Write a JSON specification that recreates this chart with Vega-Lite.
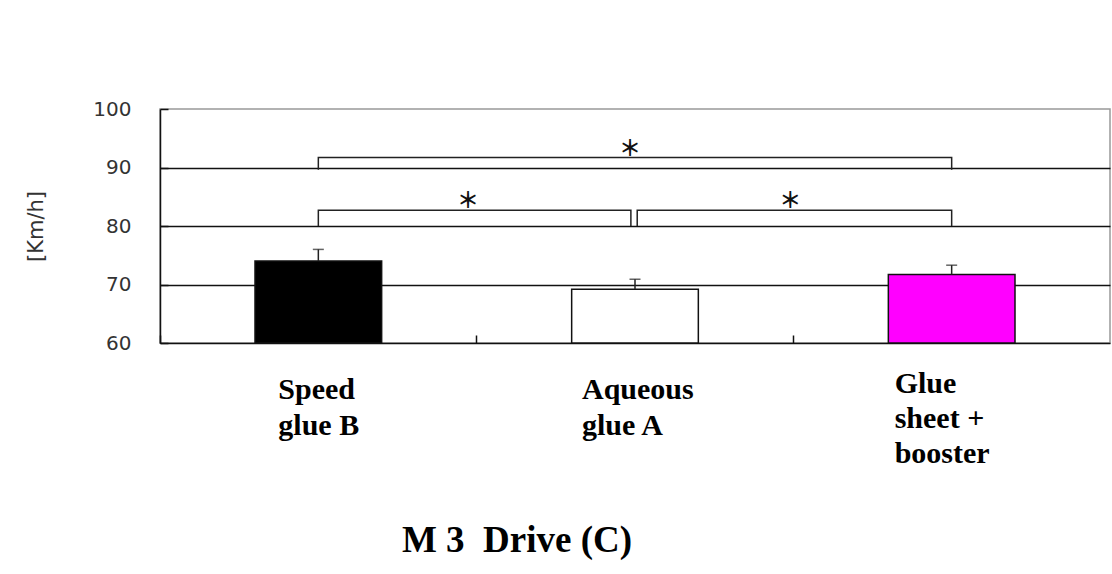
{
  "$schema": "https://vega.github.io/schema/vega-lite/v6.json",
  "width": 950,
  "height": 234,
  "autosize": {"type": "none"},
  "padding": {"left": 160, "top": 109, "right": 2, "bottom": 231},
  "background": "white",
  "config": {"view": {"stroke": "#999", "strokeWidth": 1.5}},
  "datasets": {
    "bars": [
      {"group": "Speed glue B", "label": "Speed\nglue B", "mean": 74.0, "upper": 76.0},
      {"group": "Aqueous glue A", "label": "Aqueous\nglue A", "mean": 69.2, "upper": 70.9},
      {"group": "Glue sheet + booster", "label": "Glue\nsheet +\nbooster", "mean": 71.7, "upper": 73.3}
    ],
    "brackets": [
      {"id": "all", "ord": 0, "bx": 0.5, "by": 89.6},
      {"id": "all", "ord": 1, "bx": 0.5, "by": 91.7},
      {"id": "all", "ord": 2, "bx": 2.5, "by": 91.7},
      {"id": "all", "ord": 3, "bx": 2.5, "by": 89.6},
      {"id": "left", "ord": 0, "bx": 0.5, "by": 80},
      {"id": "left", "ord": 1, "bx": 0.5, "by": 82.7},
      {"id": "left", "ord": 2, "bx": 1.487, "by": 82.7},
      {"id": "left", "ord": 3, "bx": 1.487, "by": 80},
      {"id": "right", "ord": 0, "bx": 1.507, "by": 80},
      {"id": "right", "ord": 1, "bx": 1.507, "by": 82.7},
      {"id": "right", "ord": 2, "bx": 2.5, "by": 82.7},
      {"id": "right", "ord": 3, "bx": 2.5, "by": 80}
    ],
    "stars": [
      {"sx": 1.484, "sy": 93.2, "mark": "＊"},
      {"sx": 0.973, "sy": 84.3, "mark": "＊"},
      {"sx": 1.99, "sy": 84.3, "mark": "＊"}
    ],
    "caption": [
      {"cx": 0.764, "cy": 60, "text": "M 3\u00a0 Drive (C)"}
    ]
  },
  "layer": [
    {
      "data": {"name": "bars"},
      "mark": {"type": "bar", "stroke": "#111", "strokeWidth": 1.5, "width": {"band": 0.4}},
      "encoding": {
        "x": {
          "field": "group", "type": "nominal", "sort": null,
          "scale": {"type": "band", "domain": ["Speed glue B", "Aqueous glue A", "Glue sheet + booster"], "paddingInner": 0, "paddingOuter": 0},
          "axis": {"title": null, "labels": false, "ticks": true, "tickSize": -8, "bandPosition": 0,
                   "domainColor": "#111", "domainWidth": 1.5, "tickColor": "#111", "tickWidth": 1.5, "grid": false}
        },
        "y": {
          "field": "mean", "type": "quantitative",
          "scale": {"domain": [60, 100], "nice": false, "zero": false},
          "axis": {
            "values": [60, 70, 80, 90, 100],
            "title": "[Km/h]",
            "grid": true, "gridColor": "#111", "gridWidth": 1.5,
            "gridOpacity": {"condition": {"test": "datum.value == 60 || datum.value == 100", "value": 0}, "value": 1},
            "domainColor": "#111", "domainWidth": 1.5,
            "tickSize": -8, "tickColor": "#111", "tickWidth": 1.5,
            "labelFont": "DejaVu Sans", "labelFontSize": 20, "labelColor": "#333", "labelPadding": 37,
            "titleFont": "DejaVu Sans", "titleFontSize": 21, "titleFontWeight": "normal", "titleColor": "#333", "titlePadding": 46
          }
        },
        "y2": {"datum": 60},
        "color": {
          "field": "group", "type": "nominal",
          "scale": {"domain": ["Speed glue B", "Aqueous glue A", "Glue sheet + booster"], "range": ["#000000", "#ffffff", "#ff00ff"]},
          "legend": null
        }
      }
    },
    {
      "data": {"name": "bars"},
      "mark": {"type": "rule", "color": "#222", "strokeWidth": 1.5},
      "encoding": {
        "x": {"field": "group", "type": "nominal", "sort": null, "scale": {"type": "band", "domain": ["Speed glue B", "Aqueous glue A", "Glue sheet + booster"], "paddingInner": 0, "paddingOuter": 0}, "axis": null},
        "y": {"field": "mean", "type": "quantitative"},
        "y2": {"field": "upper"}
      }
    },
    {
      "data": {"name": "bars"},
      "mark": {"type": "tick", "color": "#222", "size": 11, "thickness": 1.5},
      "encoding": {
        "x": {"field": "group", "type": "nominal", "sort": null, "scale": {"type": "band", "domain": ["Speed glue B", "Aqueous glue A", "Glue sheet + booster"], "paddingInner": 0, "paddingOuter": 0}, "axis": null},
        "y": {"field": "upper", "type": "quantitative"}
      }
    },
    {
      "data": {"name": "bars"},
      "transform": [{"filter": "datum.group == 'Speed glue B'"}],
      "mark": {"type": "text", "align": "left", "baseline": "alphabetic", "dx": -40, "dy": 56, "font": "Liberation Serif", "fontWeight": "bold", "fontSize": 30, "lineHeight": 36, "lineBreak": "\n", "color": "black"},
      "encoding": {
        "x": {"field": "group", "type": "nominal", "sort": null, "scale": {"type": "band", "domain": ["Speed glue B", "Aqueous glue A", "Glue sheet + booster"], "paddingInner": 0, "paddingOuter": 0}, "axis": null},
        "y": {"datum": 60},
        "text": {"field": "label"}
      }
    },
    {
      "data": {"name": "bars"},
      "transform": [{"filter": "datum.group == 'Aqueous glue A'"}],
      "mark": {"type": "text", "align": "left", "baseline": "alphabetic", "dx": -53, "dy": 56, "font": "Liberation Serif", "fontWeight": "bold", "fontSize": 30, "lineHeight": 36, "lineBreak": "\n", "color": "black"},
      "encoding": {
        "x": {"field": "group", "type": "nominal", "sort": null, "scale": {"type": "band", "domain": ["Speed glue B", "Aqueous glue A", "Glue sheet + booster"], "paddingInner": 0, "paddingOuter": 0}, "axis": null},
        "y": {"datum": 60},
        "text": {"field": "label"}
      }
    },
    {
      "data": {"name": "bars"},
      "transform": [{"filter": "datum.group == 'Glue sheet + booster'"}],
      "mark": {"type": "text", "align": "left", "baseline": "alphabetic", "dx": -57, "dy": 50, "font": "Liberation Serif", "fontWeight": "bold", "fontSize": 30, "lineHeight": 35, "lineBreak": "\n", "color": "black"},
      "encoding": {
        "x": {"field": "group", "type": "nominal", "sort": null, "scale": {"type": "band", "domain": ["Speed glue B", "Aqueous glue A", "Glue sheet + booster"], "paddingInner": 0, "paddingOuter": 0}, "axis": null},
        "y": {"datum": 60},
        "text": {"field": "label"}
      }
    },
    {
      "data": {"name": "brackets"},
      "mark": {"type": "line", "color": "#222", "strokeWidth": 1.5, "interpolate": "linear"},
      "encoding": {
        "x": {"field": "bx", "type": "quantitative", "scale": {"domain": [0, 3], "nice": false, "zero": false}, "axis": null},
        "y": {"field": "by", "type": "quantitative"},
        "detail": {"field": "id"},
        "order": {"field": "ord"}
      }
    },
    {
      "data": {"name": "stars"},
      "mark": {"type": "text", "align": "center", "baseline": "middle", "font": "Noto Sans CJK JP", "fontSize": 22, "fontWeight": "bold", "color": "#111"},
      "encoding": {
        "x": {"field": "sx", "type": "quantitative", "scale": {"domain": [0, 3], "nice": false, "zero": false}, "axis": null},
        "y": {"field": "sy", "type": "quantitative"},
        "text": {"field": "mark"}
      }
    },
    {
      "data": {"name": "caption"},
      "mark": {"type": "text", "align": "left", "baseline": "alphabetic", "dy": 209, "font": "Liberation Serif", "fontWeight": "bold", "fontSize": 37, "color": "black"},
      "encoding": {
        "x": {"field": "cx", "type": "quantitative", "scale": {"domain": [0, 3], "nice": false, "zero": false}, "axis": null},
        "y": {"field": "cy", "type": "quantitative"},
        "text": {"field": "text"}
      }
    }
  ],
  "resolve": {"scale": {"x": "independent"}}
}
